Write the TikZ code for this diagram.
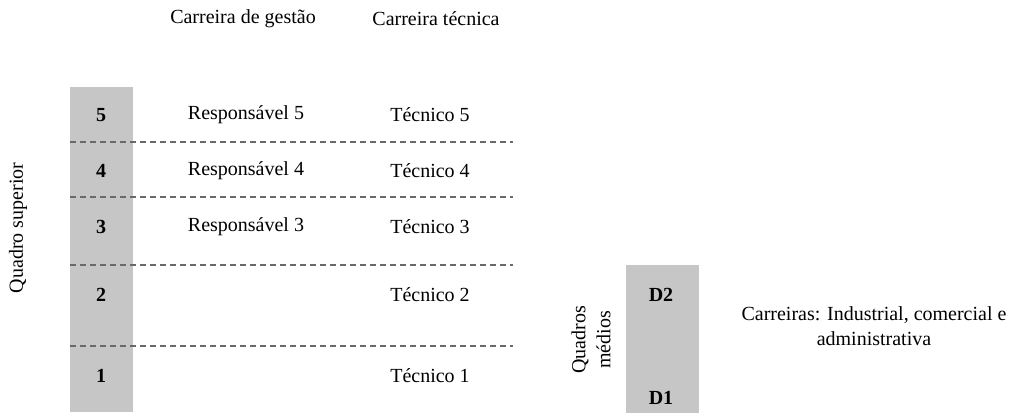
\documentclass[tikz,border=0pt]{standalone}
\usepackage{fontspec}
\setmainfont{Liberation Serif}
\definecolor{bargray}{RGB}{198,198,198}
\definecolor{dashgray}{RGB}{105,105,105}
\begin{document}
\begin{tikzpicture}[x=1pt,y=-1pt,
  every node/.style={font=\fontsize{20}{25}\selectfont, inner sep=0pt},
  bar/.style={fill=bargray, draw=none},
  num/.style={font=\fontsize{20}{25}\selectfont\bfseries},
  sep/.style={dashgray, line width=1.2pt, dash pattern=on 5.5pt off 4.5pt}]
\useasboundingbox (0,0) rectangle (1011,413);
% left bar
\fill[bar] (70,87) rectangle (133,412);
% headings
\node (hg) at (243,19) {Carreira de gestão};
\node (ht) at (436,19) {Carreira técnica};
% level numbers
\node[num] (n5) at (101,115) {5};
\node[num] (n4) at (101,171) {4};
\node[num] (n3) at (101,227) {3};
\node[num] (n2) at (101,295) {2};
\node[num] (n1) at (101,376) {1};
% management
\node (r5) at (246,115) {Responsável 5};
\node (r4) at (246,171) {Responsável 4};
\node (r3) at (246,227) {Responsável 3};
% technical
\node (t5) at (430,115) {Técnico 5};
\node (t4) at (430,171) {Técnico 4};
\node (t3) at (430,227) {Técnico 3};
\node (t2) at (430,295) {Técnico 2};
\node (t1) at (430,376) {Técnico 1};
% separators
\foreach \y/\n in {142/a,197/b,265/c,346/d}{
  \coordinate (s\n L) at (70,\y);
  \coordinate (s\n R) at (513,\y);
  \draw[sep] (s\n L) -- (s\n R);
}
% side label
\node[rotate=90] (qs) at (18,228) {Quadro superior};
% right bar
\fill[bar] (626,265) rectangle (699,413);
\node[num] (d2) at (661,295) {D2};
\node[num] (d1) at (661,398) {D1};
\node[rotate=90, align=center] (qm) at (591,340) {Quadros\\médios};
\node[align=center] (car) at (874,326) {Carreiras: Industrial, comercial e\\administrativa};
\end{tikzpicture}
\end{document}
